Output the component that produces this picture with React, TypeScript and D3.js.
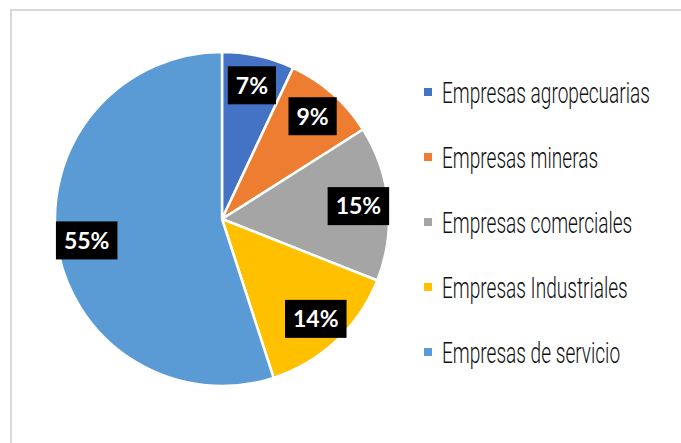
import { useEffect, useRef } from 'react';
import * as d3 from 'd3';

const categories = [
  'Empresas agropecuarias',
  'Empresas mineras',
  'Empresas comerciales',
  'Empresas Industriales',
  'Empresas de servicio',
];
const shares = [7, 9, 15, 14, 55];
const colors = ['#4472C4', '#ED7D31', '#A5A5A5', '#FFC000', '#5B9BD5'];

const WIDTH = 681;
const HEIGHT = 443;

const App = () => {
  const svgRef = useRef<SVGSVGElement | null>(null);

  useEffect(() => {
    document.body.style.margin = '0';
    const svg = d3.select(svgRef.current);
    svg.selectAll('*').remove();

    // chart frame, only top and left visible in the crop
    svg.append('rect')
      .attr('x', 11)
      .attr('y', 10)
      .attr('width', WIDTH + 20)
      .attr('height', HEIGHT + 20)
      .attr('fill', 'white')
      .attr('stroke', '#d9d9d9')
      .attr('stroke-width', 2);

    const cx = 222;
    const cy = 219;
    const radius = 167;
    const labelRadius = 137;

    const data = categories.map((name, i) => ({ name, value: shares[i], color: colors[i] }));

    const pie = d3.pie<any>().sort(null).value(d => d.value);
    const arcs = pie(data);

    const arc = d3.arc<any>().innerRadius(0).outerRadius(radius);
    const labelArc = d3.arc<any>().innerRadius(labelRadius).outerRadius(labelRadius);

    const g = svg.append('g').attr('transform', `translate(${cx},${cy})`);

    g.selectAll('path.slice')
      .data(arcs)
      .enter()
      .append('path')
      .attr('class', 'slice')
      .attr('d', arc)
      .attr('fill', d => d.data.color)
      .attr('stroke', 'white')
      .attr('stroke-width', 2.5)
      .attr('stroke-linejoin', 'round');

    const totals = d3.sum(shares);
    const labels = g.selectAll('g.label')
      .data(arcs)
      .enter()
      .append('g')
      .attr('class', 'label')
      .attr('transform', d => `translate(${labelArc.centroid(d)})`);

    labels.append('rect').attr('fill', '#000');
    labels.append('text')
      .attr('text-anchor', 'middle')
      .attr('dy', '0.36em')
      .attr('fill', 'white')
      .style('font-family', 'Lato, "Open Sans", sans-serif')
      .style('font-weight', 700)
      .style('font-size', '23px')
      .text(d => `${Math.round((d.data.value / totals) * 100)}%`);

    labels.each(function () {
      const grp = d3.select(this);
      const bb = (grp.select('text').node() as SVGTextElement).getBBox();
      const w = bb.width + 16;
      const h = 38;
      grp.select('rect')
        .attr('x', -w / 2)
        .attr('y', -h / 2)
        .attr('width', w)
        .attr('height', h);
    });

    // legend
    const legendY = d3.scalePoint<string>()
      .domain(categories)
      .range([92, 352]);

    const legend = svg.append('g');
    const items = legend.selectAll('g.item')
      .data(data)
      .enter()
      .append('g')
      .attr('class', 'item')
      .attr('transform', d => `translate(424,${legendY(d.name)})`);

    items.append('rect')
      .attr('x', 0)
      .attr('y', -4)
      .attr('width', 8)
      .attr('height', 8)
      .attr('fill', d => d.color);

    const texts = items.append('text')
      .attr('fill', '#111')
      .style('font-family', 'Roboto, "DejaVu Sans Condensed", sans-serif')
      .style('font-weight', 300)
      .style('font-size', '30px')
      .text(d => d.name);

    // squeeze to the narrow look of the original legend font
    const widest = d3.max(texts.nodes(), n => (n as SVGTextElement).getComputedTextLength()) || 1;
    const sx = 208 / widest;
    texts.attr('transform', `translate(18,10.5) scale(${sx},1)`);
  }, []);

  return <svg ref={svgRef} width={WIDTH} height={HEIGHT} style={{ display: 'block' }} />;
};

export default App;
